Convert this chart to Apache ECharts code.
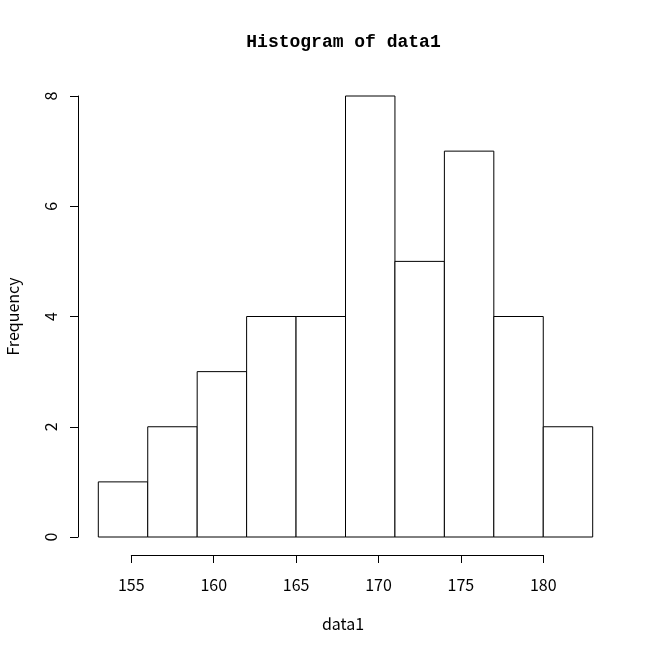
<!DOCTYPE html>
<html>
<head>
<meta charset="utf-8">
<script src="https://cdn.jsdelivr.net/npm/echarts@6/dist/echarts.min.js"></script>
<style>html,body{margin:0;padding:0;background:#fff;}#c{width:653px;height:653px;}</style>
</head>
<body>
<div id="c"></div>
<script>
// Histogram data (bin edges and counts)
const binStarts = [153, 156, 159, 162, 165, 168, 171, 174, 177, 180];
const binEnds   = [156, 159, 162, 165, 168, 171, 174, 177, 180, 183];
const counts    = [1, 2, 3, 4, 4, 8, 5, 7, 4, 2];
const xTicks = [155, 160, 165, 170, 175, 180];
const yTicks = [0, 2, 4, 6, 8];
const titleText = 'Histogram of data1';
const xLabel = 'data1';
const yLabel = 'Frequency';

const FONT = '"Liberation Sans Narrow", "Noto Sans CJK JP", sans-serif';
const chart = echarts.init(document.getElementById('c'), null, {renderer: 'canvas'});
const data = binStarts.map((s, i) => [s, binEnds[i], counts[i]]);

chart.setOption({
  animation: false,
  backgroundColor: '#fff',
  graphic: [
    {type: 'text', x: 343.5, y: 42,
     style: {text: titleText, fill: '#000', align: 'center', verticalAlign: 'middle',
             font: 'bold 18px "Liberation Mono", monospace'}},
    {type: 'text', x: 343, y: 624,
     style: {text: xLabel, fill: '#000', align: 'center', verticalAlign: 'middle',
             font: '16px ' + FONT}}
  ],
  grid: [
    {left: 98.3, top: 96, width: 494.4, height: 441, containLabel: false, outerBoundsMode: 'none'},
    {left: 131.3, top: 96, width: 412, height: 441, containLabel: false, outerBoundsMode: 'none'}
  ],
  xAxis: [
    {gridIndex: 0, type: 'value', min: binStarts[0], max: binEnds[binEnds.length - 1], show: false},
    {gridIndex: 1, type: 'value', min: xTicks[0], max: xTicks[xTicks.length - 1], interval: 5,
     position: 'bottom', offset: 18,
     axisLine: {onZero: false, lineStyle: {color: '#000', width: 1}},
     axisTick: {length: 8, lineStyle: {color: '#000'}},
     axisLabel: {margin: 22, color: '#000', fontSize: 16, fontFamily: FONT},
     splitLine: {show: false}}
  ],
  yAxis: [
    {gridIndex: 0, type: 'value', min: yTicks[0], max: yTicks[yTicks.length - 1], interval: 2,
     position: 'left', offset: 20.3,
     axisLine: {show: true, onZero: false, lineStyle: {color: '#000', width: 1}},
     axisTick: {show: true, length: 8, lineStyle: {color: '#000'}},
     axisLabel: {rotate: 90, margin: 19, color: '#000', fontSize: 16, fontFamily: FONT},
     splitLine: {show: false},
     name: yLabel, nameLocation: 'middle', nameRotate: 90, nameGap: 57,
     nameTextStyle: {color: '#000', fontSize: 16, fontFamily: FONT}},
    {gridIndex: 1, type: 'value', min: 0, max: 8, show: false}
  ],
  series: [{
    type: 'custom',
    xAxisIndex: 0, yAxisIndex: 0,
    data: data,
    renderItem: function (params, api) {
      const p0 = api.coord([api.value(0), api.value(2)]);
      const p1 = api.coord([api.value(1), 0]);
      return {
        type: 'rect',
        shape: {x: p0[0], y: p0[1], width: p1[0] - p0[0], height: p1[1] - p0[1]},
        style: {fill: '#fff', stroke: '#000', lineWidth: 1}
      };
    }
  }]
});
</script>
</body>
</html>
